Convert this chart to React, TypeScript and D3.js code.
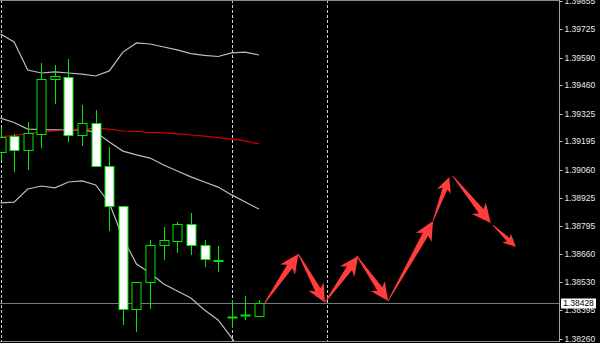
import React from "react";
import * as d3 from "d3";

// ---- Data ----
const barIndex = [1, 2, 3, 4, 5, 6, 7, 8, 9, 10, 11, 12, 13, 14, 15, 16, 17, 18, 19, 20];
const open = [1.39144, 1.39219, 1.39153, 1.39229, 1.39489, 1.39498, 1.39224, 1.39281, 1.39078, 1.38889, 1.38402, 1.38529, 1.38704, 1.38723, 1.38803, 1.38704, 1.38633, 1.38364, 1.38373, 1.38369];
const high = [1.39257, 1.39229, 1.39286, 1.39564, 1.39555, 1.39583, 1.39366, 1.39342, 1.39167, 1.38889, 1.38529, 1.38728, 1.38789, 1.38813, 1.38855, 1.38728, 1.38699, 1.38444, 1.38463, 1.38444];
const low = [1.39106, 1.39049, 1.39059, 1.39163, 1.39371, 1.39191, 1.39172, 1.39073, 1.3877, 1.38326, 1.38293, 1.38402, 1.38633, 1.38666, 1.38657, 1.386, 1.38577, 1.38312, 1.3835, 1.38369];
const close = [1.39215, 1.39153, 1.39234, 1.39489, 1.39503, 1.39224, 1.39281, 1.39078, 1.38889, 1.38402, 1.38529, 1.38704, 1.38728, 1.38803, 1.38704, 1.38638, 1.3863, 1.38364, 1.38373, 1.38428];

const upperBand = [1.39701, 1.39664, 1.39531, 1.39517, 1.39522, 1.39517, 1.39512, 1.39503, 1.39527, 1.39616, 1.39659, 1.39654, 1.3964, 1.39626, 1.39609, 1.396, 1.39595, 1.39612, 1.39616, 1.39602];
const middleBand = [1.39304, 1.39283, 1.39252, 1.3925, 1.39248, 1.39248, 1.39248, 1.39238, 1.39191, 1.39148, 1.3913, 1.39115, 1.39082, 1.39054, 1.39026, 1.39002, 1.38978, 1.38941, 1.38907, 1.38874];
const lowerBand = [1.38903, 1.38907, 1.38969, 1.38983, 1.38974, 1.39002, 1.39007, 1.38988, 1.38903, 1.38737, 1.38614, 1.38572, 1.3852, 1.38487, 1.38454, 1.38397, 1.3835, 1.38265, 1.3817, 1.38104];
const maLine = [1.39215, 1.39222, 1.39231, 1.39238, 1.39243, 1.3925, 1.39252, 1.39255, 1.39252, 1.39243, 1.39241, 1.39236, 1.39234, 1.39229, 1.39224, 1.39219, 1.39212, 1.39205, 1.39196, 1.39182];

const separatorBars = [1, 18, 25];
const currentPrice = 1.38428;

const arrowFromBar = [20.4, 22.9, 24.85, 27.2, 29.5, 32.8, 34.25, 37.2];
const arrowFromPrice = [1.38428, 1.38662, 1.38432, 1.38652, 1.3844, 1.38818, 1.3903, 1.38799];
const arrowToBar = [22.9, 24.85, 27.3, 29.5, 32.8, 34.0, 37.05, 38.9];
const arrowToPrice = [1.38662, 1.38432, 1.38652, 1.3844, 1.38818, 1.39026, 1.38808, 1.38695];

const tickLabels = ["1.39855", "1.39725", "1.39590", "1.39460", "1.39325", "1.39195", "1.39060", "1.38925", "1.38795", "1.38660", "1.38530", "1.38395", "1.38260"];

// ---- Layout ----
const W = 600;
const H = 343;
const plotRight = 559.5;
const plotBottom = 342;

const x = d3.scaleLinear().domain([1, 20]).range([0.5, 258.9]);
const y = d3.scaleLinear().domain([1.3826, 1.39725]).range([339, 29]);

function arrowPath(x1: number, y1: number, x2: number, y2: number) {
  const dx = x2 - x1;
  const dy = y2 - y1;
  const len = Math.hypot(dx, dy);
  const ux = dx / len, uy = dy / len;
  const nx = -uy, ny = ux;
  const h = Math.max(13, Math.min(19, len * 0.33));
  const wh = h * 0.95;
  const ws = h * 0.33;
  const bx = x2 - ux * h, by = y2 - uy * h;
  const mx = x2 - ux * h * 0.8, my = y2 - uy * h * 0.8;
  const pts: [number, number][] = [
    [x1 + nx * 0.4, y1 + ny * 0.4],
    [mx + nx * ws / 2, my + ny * ws / 2],
    [bx + nx * wh / 2, by + ny * wh / 2],
    [x2, y2],
    [bx - nx * wh / 2, by - ny * wh / 2],
    [mx - nx * ws / 2, my - ny * ws / 2],
    [x1 - nx * 0.4, y1 - ny * 0.4],
  ];
  return "M" + pts.map((p) => p[0].toFixed(2) + "," + p[1].toFixed(2)).join("L") + "Z";
}

export default function App() {
  const line = (vals: number[]) =>
    d3.line<number>().x((_, i) => x(barIndex[i])).y((v) => y(v))(vals) || "";

  const bodyW = 9;
  const green = "#00e600";
  const font = "'Liberation Sans', Arial, sans-serif";

  return (
    <svg width={W} height={H} style={{ position: "absolute", left: 0, top: 0, background: "#000" }}>
      <defs>
        <clipPath id="plot">
          <rect x={0} y={0} width={plotRight} height={plotBottom} />
        </clipPath>
      </defs>
      <rect x={0} y={0} width={W} height={H} fill="#000" />
      <g clipPath="url(#plot)">
        {separatorBars.map((b) => (
          <line key={b} x1={Math.round(x(b)) + 0.5} x2={Math.round(x(b)) + 0.5} y1={0} y2={plotBottom} stroke="#d0d0d0" strokeWidth={1} strokeDasharray="3,2" />
        ))}
        <line x1={0} x2={plotRight} y1={Math.round(y(currentPrice)) + 0.5} y2={Math.round(y(currentPrice)) + 0.5} stroke="#6f7a86" strokeWidth={1} />
        <path d={line(upperBand)} fill="none" stroke="#bdbdbd" strokeWidth={1.2} />
        <path d={line(middleBand)} fill="none" stroke="#bdbdbd" strokeWidth={1.2} />
        <path d={line(lowerBand)} fill="none" stroke="#bdbdbd" strokeWidth={1.2} />
        <path d={line(maLine)} fill="none" stroke="#d40000" strokeWidth={1.2} />
        {barIndex.map((b, i) => {
          const cx = Math.round(x(b)) + 0.5;
          const o = y(open[i]);
          const c = y(close[i]);
          const top = Math.round(Math.min(o, c)) + 0.5;
          const bot = Math.round(Math.max(o, c)) + 0.5;
          const bear = close[i] < open[i];
          const doji = bot - top < 1;
          return (
            <g key={b}>
              <line x1={cx} x2={cx} y1={Math.round(y(high[i]))} y2={Math.round(y(low[i]))} stroke={green} strokeWidth={1} />
              {doji ? (
                <line x1={cx - bodyW / 2 - 0.5} x2={cx + bodyW / 2 + 0.5} y1={top} y2={top} stroke={green} strokeWidth={2} />
              ) : (
                <rect x={cx - bodyW / 2} y={top} width={bodyW} height={bot - top} fill={bear ? "#ffffff" : "#000000"} stroke={green} strokeWidth={1} />
              )}
            </g>
          );
        })}
        {arrowFromBar.map((b, i) => (
          <path key={i} d={arrowPath(x(b), y(arrowFromPrice[i]), x(arrowToBar[i]), y(arrowToPrice[i]))} fill="#ff3d3d" />
        ))}
      </g>
      <line x1={0} x2={plotRight} y1={0.5} y2={0.5} stroke="#8a8a8a" strokeWidth={1} />
      <line x1={0} x2={plotRight} y1={plotBottom - 0.5} y2={plotBottom - 0.5} stroke="#8a8a8a" strokeWidth={1} />
      <line x1={plotRight} x2={plotRight} y1={0} y2={plotBottom} stroke="#a0a0a0" strokeWidth={1} />
      {tickLabels.map((t) => {
        const ty = Math.round(y(+t)) + 0.5;
        return (
          <g key={t}>
            <line x1={plotRight} x2={plotRight + 3} y1={ty} y2={ty} stroke="#c0c0c0" />
            <text x={564.5} y={ty} dy="0.35em" fill="#e8e8e8" fontFamily={font} fontSize={8.5}>{t}</text>
          </g>
        );
      })}
      <rect x={561} y={Math.round(y(currentPrice)) - 4.5} width={35} height={10} fill="#ffffff" />
      <text x={578.5} y={Math.round(y(currentPrice)) + 0.5} dy="0.35em" textAnchor="middle" fill="#000" fontFamily={font} fontSize={8.5}>{currentPrice.toFixed(5)}</text>
    </svg>
  );
}
